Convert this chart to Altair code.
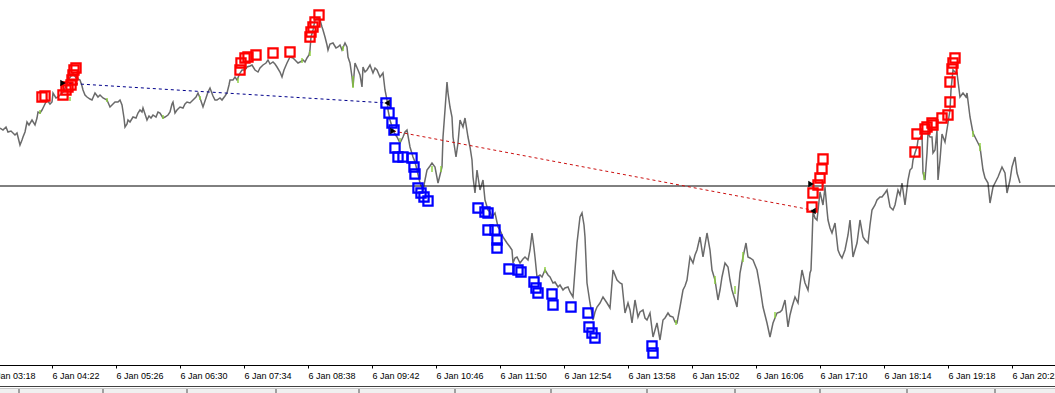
import altair as alt
import pandas as pd

# ---- price line (x: minutes after 03:30, y: level, top = 0) ----
line_x = [0,3,6,8,11,15,17,20,22,23,25,27,29,32,35,37,38,40,42,44,47,50,52,53,56,58,61,63,66,68,71,73,76,80,82,83,85,87,90,92,95,98,100,103,107,110,113,115,118,120,122,124,125,127,128,130,133,136,138,140,142,143,145,147,149,151,153,156,158,160,163,165,168,170,172,173,175,177,180,183,185,187,190,193,196,198,200,203,206,208,210,213,215,217,220,222,225,227,229,230,233,235,237,240,242,245,247,250,252,255,258,260,263,266,268,270,273,275,277,280,282,284,287,290,293,295,298,300,303,305,307,309,310,311,313,315,318,320,322,323,325,327,328,330,333,336,338,340,342,345,347,348,350,352,353,355,358,360,362,363,365,367,370,373,375,377,380,383,385,387,388,390,393,395,397,400,403,405,407,410,413,415,417,420,423,425,427,430,432,435,438,440,442,443,445,447,448,450,452,453,456,458,460,463,465,468,470,472,473,475,477,480,483,485,488,490,492,495,498,500,503,505,507,510,512,513,515,517,520,523,525,528,530,532,534,535,537,540,542,545,548,550,553,555,558,560,563,565,568,570,573,575,577,580,582,584,585,587,590,593,595,597,600,603,605,607,610,613,617,620,622,625,628,630,632,635,638,640,643,645,647,650,653,655,657,660,663,665,668,670,673,675,677,680,683,685,687,690,693,695,697,700,703,705,707,710,712,715,718,720,722,725,728,730,732,735,737,740,743,746,748,750,753,757,760,763,765,767,770,773,775,777,780,782,785,788,790,792,795,798,800,802,805,808,810,811,812,813,815,817,820,823,825,827,828,830,832,835,838,840,842,845,848,850,853,855,857,860,863,865,868,870,872,875,877,880,882,885,887,890,893,895,898,900,902,905,908,910,912,913,915,917,918,920,922,923,925,927,928,930,932,933,935,937,938,940,942,945,948,950,951,953,955,957,960,963,966,967,970,973,975,978,980,983,985,988,990,993,995,998,1000,1002,1005,1007,1010,1012,1015,1017,1020]
line_y = [128,130,127,132,131,135,133,145,140,137,132,122,125,120,125,118,112,113,110,106,100,104,102,93,98,97,94,92,86,80,76,73,78,80,86,90,95,97,99,100,93,97,95,98,100,107,104,102,102,100,105,118,127,124,120,122,117,118,113,110,112,108,114,120,116,118,115,117,112,113,118,117,115,112,104,102,113,110,107,108,104,102,103,100,97,93,98,107,98,92,88,96,100,100,98,100,96,93,85,80,80,77,80,73,70,70,67,66,65,70,72,68,65,63,60,64,62,64,67,72,77,70,63,57,58,60,63,62,60,62,58,55,50,37,30,20,18,20,27,30,37,45,50,44,43,48,47,45,50,43,47,57,63,77,87,63,70,75,87,67,72,70,65,73,68,70,77,73,90,100,110,120,130,134,137,143,137,132,130,147,157,162,170,183,190,180,170,166,163,167,183,175,167,137,110,82,93,107,117,137,157,143,120,127,118,137,147,160,177,193,170,190,180,200,210,212,217,213,227,230,237,240,243,247,250,263,258,257,263,259,257,260,250,233,248,257,277,275,277,270,275,277,283,282,287,285,290,288,287,292,297,270,243,217,213,225,237,283,303,320,312,307,303,297,300,303,308,270,280,283,284,313,303,310,323,300,317,312,310,318,320,313,337,330,323,340,320,318,313,316,317,322,323,307,290,286,280,257,263,255,250,237,257,245,233,250,270,280,300,290,277,263,267,280,290,300,307,273,257,243,257,258,260,270,287,307,315,323,337,323,318,313,312,310,300,327,315,307,297,303,285,270,283,290,273,270,243,212,218,220,192,205,187,210,220,228,233,223,250,255,258,250,235,220,257,250,243,220,237,240,243,225,210,205,200,197,197,193,190,207,210,205,190,195,183,205,180,170,168,160,153,147,140,138,135,173,180,153,133,137,137,153,150,130,180,160,134,142,123,110,90,70,72,73,97,93,97,93,117,133,137,143,147,170,178,183,203,187,183,177,172,167,173,193,180,167,157,173,183]

# ---- light-green up-tick segments on the line ----
green_x = [40, 70, 107, 163, 200, 238, 302, 310, 343, 353, 400, 432, 441, 545, 676, 715, 735, 743, 775, 924, 973, 980]
green_y1 = [110, 97, 98, 115, 96, 78, 58, 51, 46, 76, 138, 166, 166, 267, 320, 276, 286, 252, 312, 172, 131, 143]
green_y2 = [114, 101, 102, 119, 100, 83, 63, 56, 51, 88, 143, 172, 172, 273, 325, 284, 294, 262, 318, 180, 137, 151]

# ---- signal squares ----
red_x = [42, 45, 63, 66, 68, 71, 72, 73, 74, 76,
         240, 241, 245, 248, 256, 273, 290, 310, 311, 313, 315, 319,
         812, 813, 818, 820, 822, 823,
         915, 917, 925, 927, 932, 933, 942, 948, 950, 950, 952, 953, 955]
red_y = [97, 96, 95, 90, 87, 85, 80, 75, 70, 68,
         70, 63, 58, 57, 55, 53, 52, 37, 32, 27, 22, 15,
         207, 193, 185, 178, 169, 159,
         152, 134, 129, 127, 123, 125, 118, 115, 102, 82, 69, 63, 58]
blue_x = [386, 389, 392, 394, 395, 398, 403, 412, 414, 415, 418, 421, 424, 428,
          478, 485, 488, 488, 495, 497, 497, 509, 518, 521, 534, 536, 538, 552, 553, 571, 588, 589, 592, 595, 652, 653]
blue_y = [103, 113, 123, 130, 148, 157, 157, 158, 167, 174, 188, 193, 197, 201,
          208, 212, 213, 230, 230, 240, 248, 269, 270, 272, 282, 288, 293, 294, 305, 307, 313, 327, 333, 338, 346, 353]

# ---- trade connection lines and arrows ----
navy_x = [63, 387]
navy_y = [83, 103]
dred_x = [393, 812]
dred_y = [131, 210]
arrow_x = [63, 393, 811]
arrow_y = [83, 131, 184]
arrowl_x = [387, 813]
arrowl_y = [103, 211]

level_line = [186]

# ---- time axis ----
tick_minutes = [-12, 52, 116, 180, 244, 308, 372, 436, 500, 564, 628, 692, 756, 820, 884, 948, 1012]
tick_labels = ["6 Jan 03:18", "6 Jan 04:22", "6 Jan 05:26", "6 Jan 06:30", "6 Jan 07:34", "6 Jan 08:38",
               "6 Jan 09:42", "6 Jan 10:46", "6 Jan 11:50", "6 Jan 12:54", "6 Jan 13:58", "6 Jan 15:02",
               "6 Jan 16:06", "6 Jan 17:10", "6 Jan 18:14", "6 Jan 19:18", "6 Jan 20:22"]
strip_ticks = [19, 103, 187, 276, 359, 455, 551, 647, 735, 820, 907, 995]

W, H = 1055, 365
xs = alt.Scale(domain=[-12, 1055], range=[-12, 1055], nice=False, zero=False)
ys = alt.Scale(domain=[0, H], reverse=True, nice=False, zero=False)

lab_expr = ("[" + ",".join("'%s'" % s for s in tick_labels) + "][indexof(["
            + ",".join(str(v) for v in tick_minutes) + "], datum.value)]")

x_axis = alt.Axis(values=tick_minutes, labelExpr=lab_expr, title=None, grid=False,
                  domainColor="black", domainWidth=1, tickColor="black", tickSize=3,
                  labelFont="Liberation Sans", labelFontSize=9, labelColor="black",
                  labelAlign="left", labelBaseline="middle", labelPadding=7,
                  labelFlush=False, labelOverlap=False, labelBound=False)

def X(field):
    return alt.X(field, type="quantitative", scale=xs, axis=x_axis)

def Y(field):
    return alt.Y(field, type="quantitative", scale=ys, axis=None)

price = pd.DataFrame({"m": line_x, "v": line_y})
greens = pd.DataFrame({"m": green_x, "a": green_y1, "b": green_y2})
reds = pd.DataFrame({"m": red_x, "v": red_y})
blues = pd.DataFrame({"m": blue_x, "v": blue_y})
navy = pd.DataFrame({"m": navy_x, "v": navy_y})
dred = pd.DataFrame({"m": dred_x, "v": dred_y})
arr_r = pd.DataFrame({"m": arrow_x, "v": arrow_y})
arr_l = pd.DataFrame({"m": arrowl_x, "v": arrowl_y})
hline = pd.DataFrame({"v": level_line})
strip = pd.DataFrame({"m": strip_ticks})
one = pd.DataFrame({"k": [0]})

price_layer = alt.Chart(price).mark_line(color="#6a6a6a", strokeWidth=1.5).encode(
    x=X("m"), y=Y("v"))
green_layer = alt.Chart(greens).mark_rule(color="#8cd23c", strokeWidth=1.4).encode(
    x=X("m"), y=Y("a"), y2="b")
hline_layer = alt.Chart(hline).mark_rule(color="black", strokeWidth=1).encode(y=Y("v"))
navy_layer = alt.Chart(navy).mark_line(color="#00008b", strokeWidth=1, strokeDash=[3, 3]).encode(
    x=X("m"), y=Y("v"))
dred_layer = alt.Chart(dred).mark_line(color="#cc1010", strokeWidth=1, strokeDash=[3, 3]).encode(
    x=X("m"), y=Y("v"))
red_layer = alt.Chart(reds).mark_square(filled=False, color="#ff0000", strokeWidth=2.2, size=85, opacity=1).encode(
    x=X("m"), y=Y("v"))
blue_layer = alt.Chart(blues).mark_square(filled=False, color="#0000ff", strokeWidth=2.2, size=85, opacity=1).encode(
    x=X("m"), y=Y("v"))
ar_layer = alt.Chart(arr_r).mark_point(shape="triangle-right", filled=True, color="black", size=40, opacity=1).encode(
    x=X("m"), y=Y("v"))
al_layer = alt.Chart(arr_l).mark_point(shape="triangle-left", filled=True, color="black", size=40, opacity=1).encode(
    x=X("m"), y=Y("v"))

strip_bg = alt.Chart(one).mark_rect(color="#f0f0f0").encode(
    x=alt.value(0), x2=alt.value(W), y=alt.value(388), y2=alt.value(393))
strip_line1 = alt.Chart(one).mark_rule(color="#404040", strokeWidth=1).encode(
    x=alt.value(0), x2=alt.value(W), y=alt.value(386.5))
strip_line2 = alt.Chart(one).mark_rule(color="#c8c8c8", strokeWidth=1).encode(
    x=alt.value(0), x2=alt.value(W), y=alt.value(388.5))
strip_tk = alt.Chart(strip).mark_rule(color="#505050", strokeWidth=1).encode(
    x=X("m"), y=alt.value(389), y2=alt.value(393))

chart = alt.layer(
    price_layer, strip_bg, strip_line1, strip_line2, strip_tk,
    hline_layer, navy_layer, dred_layer, green_layer,
    red_layer, blue_layer, ar_layer, al_layer
).properties(
    width=W, height=H,
    autosize=alt.AutoSizeParams(type="none"),
    padding={"left": 0, "top": 0, "right": 0, "bottom": 28},
    background="white",
).configure_view(stroke=None)

chart.save("out.html", embed_options={"renderer": "svg", "actions": False})
